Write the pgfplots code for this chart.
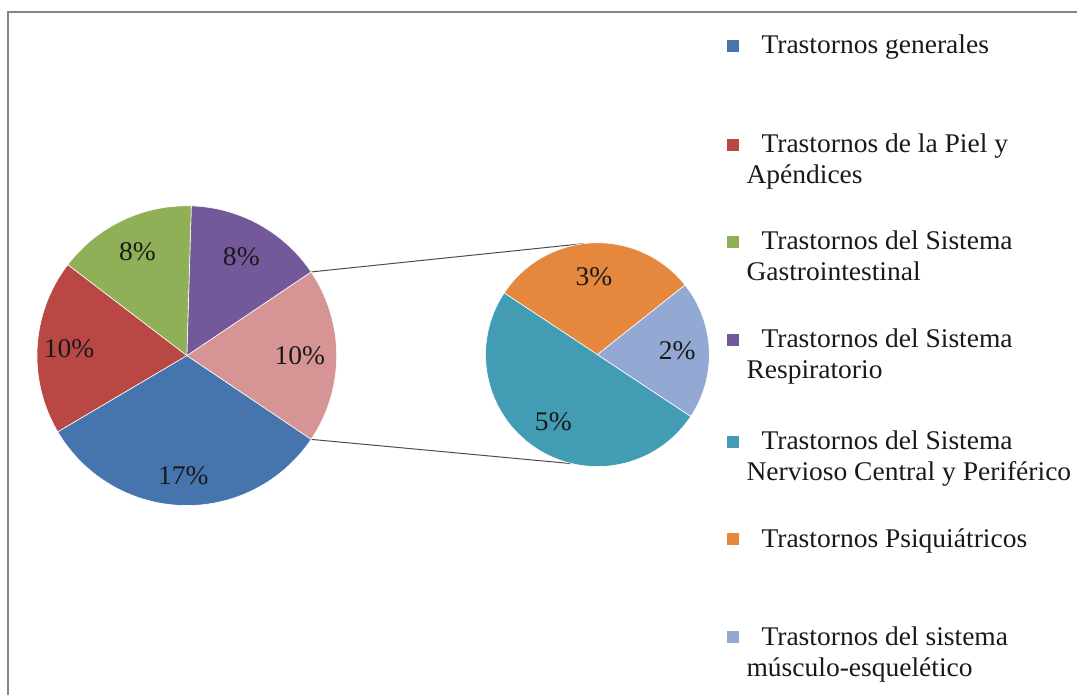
\documentclass[border=0pt]{standalone}
\usepackage{pgfplots}
\pgfplotsset{compat=1.18}
\usepackage{pgfplotstable}
\usetikzlibrary{calc}
\usepackage{fontspec}
\setmainfont[FakeStretch=1.02]{Liberation Serif}

\definecolor{cBlue}{HTML}{4674AC}
\definecolor{cRed}{HTML}{B94845}
\definecolor{cGreen}{HTML}{8FB056}
\definecolor{cPurple}{HTML}{74599A}
\definecolor{cPink}{HTML}{D69594}
\definecolor{cTeal}{HTML}{429CB3}
\definecolor{cOrange}{HTML}{E5883E}
\definecolor{cLBlue}{HTML}{93A9D3}
\definecolor{cFrame}{HTML}{858585}

\pgfplotstableread{
cat value
generales 17
piel 10
gastro 8
resp 8
otros 10
}\mainpie
\pgfplotstableread{
cat value
psiq 3
nervioso 5
musculo 2
}\subpie

\newcommand\getval[3]{\pgfplotstablegetelem{#2}{value}\of#1\edef#3{\pgfplotsretval}}
% color, cx, cy, start, end, radius
\newcommand\slice[6]{\fill[#1, draw=white, line width=0.6bp] (axis cs:#2,#3) -- ++(#4:#6bp) arc[start angle=#4, end angle=#5, radius=#6bp] -- cycle;}
\newcommand\plabel[5]{\path (axis cs:#1,#2) ++(#3:#4bp) node {#5};}

\begin{document}%
\begin{tikzpicture}[every node/.style={font=\fontsize{27bp}{31bp}\selectfont, text=black!90}]
\getval\mainpie{0}\vGen
\getval\mainpie{1}\vPiel
\getval\mainpie{2}\vGas
\getval\mainpie{3}\vRes
\getval\mainpie{4}\vOtr
\getval\subpie{0}\vPsi
\getval\subpie{1}\vNer
\getval\subpie{2}\vMus
\pgfmathsetmacro\totM{\vGen+\vPiel+\vGas+\vRes+\vOtr}
\pgfmathsetmacro\sO{-\vOtr/\totM*180}
\pgfmathsetmacro\eO{\vOtr/\totM*180}
\pgfmathsetmacro\eRes{\eO+\vRes/\totM*360}
\pgfmathsetmacro\eGas{\eRes+\vGas/\totM*360}
\pgfmathsetmacro\ePiel{\eGas+\vPiel/\totM*360}
\pgfmathsetmacro\eGen{\ePiel+\vGen/\totM*360}
\pgfmathsetmacro\mO{(\sO+\eO)/2}
\pgfmathsetmacro\mRes{(\eO+\eRes)/2}
\pgfmathsetmacro\mGas{(\eRes+\eGas)/2}
\pgfmathsetmacro\mPiel{(\eGas+\ePiel)/2}
\pgfmathsetmacro\mGen{(\ePiel+\eGen)/2}
\pgfmathsetmacro\totS{\vPsi+\vNer+\vMus}
\pgfmathsetmacro\sPsi{38.5}
\pgfmathsetmacro\ePsi{\sPsi+\vPsi/\totS*360}
\pgfmathsetmacro\eNer{\ePsi+\vNer/\totS*360}
\pgfmathsetmacro\eMus{\eNer+\vMus/\totS*360}
\pgfmathsetmacro\mPsi{(\sPsi+\ePsi)/2}
\pgfmathsetmacro\mNer{(\ePsi+\eNer)/2}
\pgfmathsetmacro\mMus{(\eNer+\eMus)/2}
\begin{axis}[x=1bp, y=1bp, xmin=0, xmax=1078, ymin=0, ymax=696,
  hide axis, clip=false, anchor=origin, at={(0,0)}]
\path (axis cs:0,0) rectangle (axis cs:1078,696);
\draw[cFrame, line width=2bp] (axis cs:8.5,0) -- (axis cs:8.5,684) -- (axis cs:1078,684);
% connectors
\draw[black!70, line width=1bp] ($(axis cs:187,340)+(\eO:150bp)$) -- ($(axis cs:598,341)+(96.5:112bp)$);
\draw[black!70, line width=1bp] ($(axis cs:187,340)+(\sO:150bp)$) -- ($(axis cs:598,341)+(257:112bp)$);
% main pie
\slice{cPink}{187}{340}{\sO}{\eO}{150}
\slice{cPurple}{187}{340}{\eO}{\eRes}{150}
\slice{cGreen}{187}{340}{\eRes}{\eGas}{150}
\slice{cRed}{187}{340}{\eGas}{\ePiel}{150}
\slice{cBlue}{187}{340}{\ePiel}{\eGen}{150}
% sub pie
\slice{cOrange}{598}{341}{\sPsi}{\ePsi}{112}
\slice{cTeal}{598}{341}{\ePsi}{\eNer}{112}
\slice{cLBlue}{598}{341}{\eNer}{\eMus}{112}
% labels
\plabel{187}{340}{\mGen}{120}{17\%}
\plabel{187}{340}{\mPiel}{118}{10\%}
\plabel{187}{340}{\mGas}{115}{8\%}
\plabel{187}{340}{\mRes}{113}{8\%}
\plabel{187}{340}{\mO}{113}{10\%}
\plabel{598}{341}{\mPsi}{78}{3\%}
\plabel{598}{341}{\mNer}{80}{5\%}
\plabel{598}{341}{\mMus}{80}{2\%}
% legend
\fill[cBlue]   (axis cs:728,644) rectangle (axis cs:740,656);
\fill[cRed]    (axis cs:728,545) rectangle (axis cs:740,557);
\fill[cGreen]  (axis cs:728,448) rectangle (axis cs:740,460);
\fill[cPurple] (axis cs:728,350) rectangle (axis cs:740,362);
\fill[cTeal]   (axis cs:728,248) rectangle (axis cs:740,260);
\fill[cOrange] (axis cs:728,150) rectangle (axis cs:740,162);
\fill[cLBlue]  (axis cs:728,52)  rectangle (axis cs:740,64);
\begin{scope}[every node/.append style={anchor=base west, inner sep=0pt}]
\node at (axis cs:762,642) {Trastornos generales};
\node at (axis cs:762,543) {Trastornos de la Piel y};
\node at (axis cs:747,512) {Apéndices};
\node at (axis cs:762,446) {Trastornos del Sistema};
\node at (axis cs:747,415) {Gastrointestinal};
\node at (axis cs:762,348) {Trastornos del Sistema};
\node at (axis cs:747,317) {Respiratorio};
\node at (axis cs:762,246) {Trastornos del Sistema};
\node at (axis cs:747,215) {Nervioso Central y Periférico};
\node at (axis cs:762,148) {Trastornos Psiquiátricos};
\node at (axis cs:762,50)  {Trastornos del sistema};
\node at (axis cs:747,19)  {músculo-esquelético};
\end{scope}
\end{axis}
\end{tikzpicture}%
\end{document}
